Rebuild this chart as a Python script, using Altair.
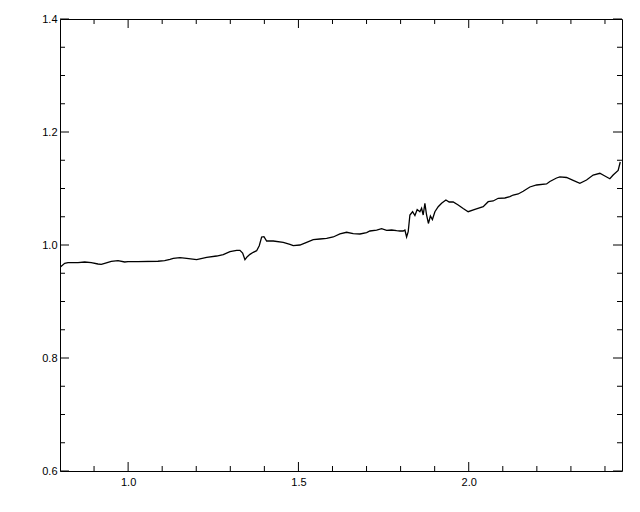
import altair as alt
import pandas as pd

# Spectrum curve (wavelength, ratio)
wl = [0.802, 0.8138, 0.8235, 0.8528, 0.8725, 0.8919, 0.9115, 0.9212, 0.9312, 0.9506,
      0.9702, 0.9899, 0.9996, 1.0289, 1.0876, 1.1073, 1.1229, 1.1326, 1.1522, 1.1719,
      1.2012, 1.2306, 1.2599, 1.2793, 1.2990, 1.3186, 1.3283, 1.3362, 1.3430, 1.3498,
      1.3577, 1.3674, 1.3773, 1.3850, 1.3920, 1.3988, 1.4067, 1.4261, 1.4554, 1.4751,
      1.4848, 1.5044, 1.5241, 1.5435, 1.5631, 1.5828, 1.6022, 1.6218, 1.6415, 1.6609,
      1.6805, 1.7002, 1.7099, 1.7296, 1.7442, 1.7589, 1.7736, 1.7883, 1.7980, 1.8076,
      1.8126, 1.8176, 1.8223, 1.8273, 1.8352, 1.8420, 1.8487, 1.8566, 1.8616, 1.8663,
      1.8713, 1.8762, 1.8816, 1.8875, 1.8933, 1.9007, 1.9104, 1.9203, 1.9330, 1.9426,
      1.9544, 1.9691, 1.9837, 1.9984, 2.0181, 2.0425, 2.0571, 2.0718, 2.0865, 2.1062,
      2.1208, 2.1305, 2.1452, 2.1599, 2.1795, 2.1992, 2.2285, 2.2382, 2.2579, 2.2676,
      2.2872, 2.3066, 2.3263, 2.3459, 2.3653, 2.3850, 2.3997, 2.4143, 2.4240, 2.4387,
      2.4449]
ratio = [0.9616, 0.9676, 0.9687, 0.9687, 0.9699, 0.9687, 0.9664, 0.9658, 0.9676, 0.9712,
         0.9722, 0.9699, 0.9704, 0.9704, 0.9712, 0.9722, 0.9747, 0.9765, 0.9775, 0.9765,
         0.9740, 0.9782, 0.9805, 0.9828, 0.9881, 0.9906, 0.9906, 0.9858, 0.9740, 0.9793,
         0.9835, 0.9871, 0.9899, 0.9988, 1.0142, 1.0147, 1.0071, 1.0071, 1.0048, 1.0012,
         0.9988, 1.0000, 1.0048, 1.0094, 1.0106, 1.0119, 1.0142, 1.0195, 1.0225, 1.0200,
         1.0195, 1.0221, 1.0248, 1.0265, 1.0288, 1.0260, 1.0265, 1.0253, 1.0248, 1.0248,
         1.0265, 1.0142, 1.0235, 1.0531, 1.0589, 1.0522, 1.0628, 1.0589, 1.0650, 1.0531,
         1.0738, 1.0531, 1.0381, 1.0513, 1.0451, 1.0589, 1.0678, 1.0738, 1.0796, 1.0761,
         1.0761, 1.0708, 1.0646, 1.0589, 1.0632, 1.0678, 1.0766, 1.0779, 1.0827, 1.0832,
         1.0855, 1.0885, 1.0903, 1.0952, 1.1027, 1.1062, 1.1080, 1.1124, 1.1186, 1.1204,
         1.1195, 1.1145, 1.1092, 1.1150, 1.1239, 1.1269, 1.1221, 1.1173, 1.1239, 1.1319,
         1.1469]

x_major = [1.0, 1.5, 2.0]
x_minor = [0.9, 1.1, 1.2, 1.3, 1.4, 1.6, 1.7, 1.8, 1.9, 2.1, 2.2, 2.3, 2.4]
y_major = [0.6, 0.8, 1.0, 1.2, 1.4]
y_minor = [0.65, 0.7, 0.75, 0.85, 0.9, 0.95, 1.05, 1.1, 1.15, 1.25, 1.3, 1.35]

W, H = 562, 452
MAJ, MIN = 9, 5
FONT = "Liberation Sans"

xs = alt.Scale(domain=[0.8, 2.45], nice=False, zero=False)
ys = alt.Scale(domain=[0.6, 1.4], nice=False, zero=False)

x_axis = alt.Axis(title=None, values=x_major, format=".1f", ticks=False, tickSize=0,
                  domain=False, grid=False, labelPadding=5, labelFont=FONT,
                  labelFontSize=11, labelColor="black")
y_axis = alt.Axis(title=None, values=y_major, format=".1f", ticks=False, tickSize=0,
                  domain=False, grid=False, labelPadding=3, labelFont=FONT,
                  labelFontSize=11, labelColor="black")

df = pd.DataFrame({"wl": wl, "ratio": ratio})

line = alt.Chart(df).mark_line(color="black", strokeWidth=1.3, clip=True).encode(
    x=alt.X("wl:Q", scale=xs, axis=x_axis),
    y=alt.Y("ratio:Q", scale=ys, axis=y_axis),
)

def xticks(vals, length):
    d = pd.DataFrame({"t": vals})
    base = alt.Chart(d).mark_rule(color="black", strokeWidth=1)
    bottom = base.encode(x=alt.X("t:Q", scale=xs, axis=x_axis),
                         y=alt.value(H), y2=alt.value(H - length))
    top = base.encode(x=alt.X("t:Q", scale=xs, axis=x_axis),
                      y=alt.value(0), y2=alt.value(length))
    return [bottom, top]

def yticks(vals, length):
    d = pd.DataFrame({"t": vals})
    base = alt.Chart(d).mark_rule(color="black", strokeWidth=1)
    left = base.encode(y=alt.Y("t:Q", scale=ys, axis=y_axis),
                       x=alt.value(0), x2=alt.value(length))
    right = base.encode(y=alt.Y("t:Q", scale=ys, axis=y_axis),
                        x=alt.value(W), x2=alt.value(W - length))
    return [left, right]

layers = [line] + xticks(x_major, MAJ) + xticks(x_minor, MIN) + yticks(y_major, MAJ) + yticks(y_minor, MIN)

chart = alt.layer(*layers).properties(
    width=W, height=H,
    autosize=alt.AutoSizeParams(type="none"),
    padding={"left": 52, "top": 11, "right": 10, "bottom": 33},
    background="white",
).configure_view(stroke="black", strokeWidth=1)

chart.save("out.html", embed_options={"renderer": "svg", "actions": False})
